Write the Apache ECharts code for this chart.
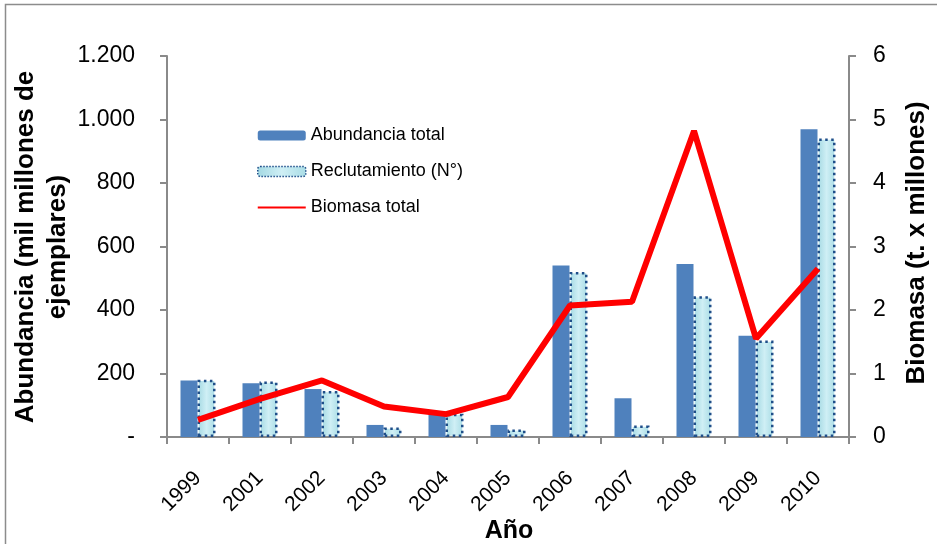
<!DOCTYPE html>
<html>
<head>
<meta charset="utf-8">
<script src="https://cdn.jsdelivr.net/npm/echarts@6/dist/echarts.min.js"></script>
<style>
  html, body { margin: 0; padding: 0; background: #fff; }
  #chart { width: 937px; height: 544px; }
</style>
</head>
<body>
<div id="chart"></div>
<script>
// Years on the category axis
const years = ['1999', '2001', '2002', '2003', '2004', '2005', '2006', '2007', '2008', '2009', '2010'];
// Total abundance (thousand million individuals), left axis
const abundanciaTotal = [178, 169, 151, 38, 75, 38, 540, 122, 545, 319, 969];
// Recruitment (N°), left axis
const reclutamiento = [180, 175, 145, 30, 73, 24, 520, 36, 443, 304, 940];
// Total biomass (t. x millions), right axis
const biomasaTotal = [0.27, 0.6, 0.89, 0.48, 0.36, 0.63, 2.07, 2.13, 4.82, 1.55, 2.65];
// Left axis tick labels, from 0 up to 1200
const leftTickLabels = ['-', '200', '400', '600', '800', '1.000', '1.200'];

const FONT = '"Liberation Sans", Arial, sans-serif';
const axisGray = '#8a8a8a';

const chart = echarts.init(document.getElementById('chart'), null, { renderer: 'canvas' });

chart.setOption({
  animation: false,
  backgroundColor: '#ffffff',
  textStyle: { fontFamily: FONT, color: '#000' },
  grid: { left: 167, right: 88, top: 56, bottom: 107, containLabel: false },
  legend: {
    orient: 'vertical',
    left: 257,
    top: 125,
    padding: 0,
    itemWidth: 48,
    itemHeight: 10,
    itemGap: 15,
    textStyle: { fontFamily: FONT, fontSize: 18, color: '#000', lineHeight: 21 },
    data: [
      { name: 'Abundancia total' },
      { name: 'Reclutamiento (N°)', itemStyle: { borderType: 'dotted', borderWidth: 1.5, borderColor: '#1f4e89' } },
      { name: 'Biomasa total', icon: 'path://M0,0 L48,0 L48,2 L0,2 Z', itemStyle: { color: '#ff0000' } }
    ]
  },
  xAxis: {
    type: 'category',
    data: years,
    boundaryGap: true,
    axisLine: { lineStyle: { color: axisGray, width: 2 } },
    axisTick: { show: true, alignWithLabel: false, length: 7, lineStyle: { color: axisGray, width: 2 } },
    axisLabel: { rotate: 45, fontSize: 21, color: '#000', fontFamily: FONT, margin: 38, interval: 0 },
    splitLine: { show: false }
  },
  yAxis: [
    {
      type: 'value',
      min: 0,
      max: 1200,
      interval: 200,
      axisLine: { show: true, lineStyle: { color: axisGray, width: 2 } },
      axisTick: { show: true, length: 7, lineStyle: { color: axisGray, width: 2 } },
      axisLabel: {
        fontSize: 23, color: '#000', fontFamily: FONT, margin: 32,
        formatter: function (v) { return leftTickLabels[Math.round(v / 200)]; }
      },
      splitLine: { show: false }
    },
    {
      type: 'value',
      min: 0,
      max: 6,
      interval: 1,
      position: 'right',
      axisLine: { show: true, lineStyle: { color: axisGray, width: 2 } },
      axisTick: { show: true, length: 7, lineStyle: { color: axisGray, width: 2 } },
      axisLabel: { fontSize: 23, color: '#000', fontFamily: FONT, margin: 24 },
      splitLine: { show: false }
    }
  ],
  series: [
    {
      name: 'Abundancia total',
      type: 'bar',
      yAxisIndex: 0,
      data: abundanciaTotal,
      barWidth: 17,
      barGap: '0%',
      itemStyle: { color: '#4f81bd' }
    },
    {
      name: 'Reclutamiento (N°)',
      type: 'bar',
      yAxisIndex: 0,
      data: reclutamiento,
      barWidth: 18,
      itemStyle: {
        color: new echarts.graphic.LinearGradient(0, 0, 1, 0, [
          { offset: 0, color: '#a3d8e2' },
          { offset: 0.5, color: '#cfeff5' },
          { offset: 1, color: '#a9dce5' }
        ]),
        borderColor: '#1f4e89',
        borderWidth: 2.5,
        borderType: [2.5, 3.5]
      }
    },
    {
      name: 'Biomasa total',
      type: 'line',
      yAxisIndex: 1,
      data: biomasaTotal,
      symbol: 'none',
      z: 5,
      lineStyle: { color: '#ff0000', width: 6 },
      itemStyle: { color: '#ff0000' }
    }
  ],
  graphic: [
    {
      type: 'rect',
      shape: { x: 5.5, y: 4.5, width: 960, height: 600 },
      style: { fill: 'none', stroke: '#8c8c8c', lineWidth: 1.5 },
      silent: true,
      z: -1
    },
    {
      type: 'text',
      x: 42, y: 247,
      rotation: Math.PI / 2,
      style: {
        text: 'Abundancia (mil millones de\nejemplares)',
        font: 'bold 26px ' + FONT,
        fill: '#000',
        align: 'center',
        verticalAlign: 'middle',
        lineHeight: 32
      }
    },
    {
      type: 'text',
      x: 917, y: 243,
      rotation: Math.PI / 2,
      style: {
        text: 'Biomasa (t. x millones)',
        font: 'bold 26px ' + FONT,
        fill: '#000',
        align: 'center',
        verticalAlign: 'middle'
      }
    },
    {
      type: 'text',
      x: 509, y: 531,
      style: {
        text: 'Año',
        font: 'bold 25px ' + FONT,
        fill: '#000',
        align: 'center',
        verticalAlign: 'middle'
      }
    }
  ]
});
</script>
</body>
</html>
